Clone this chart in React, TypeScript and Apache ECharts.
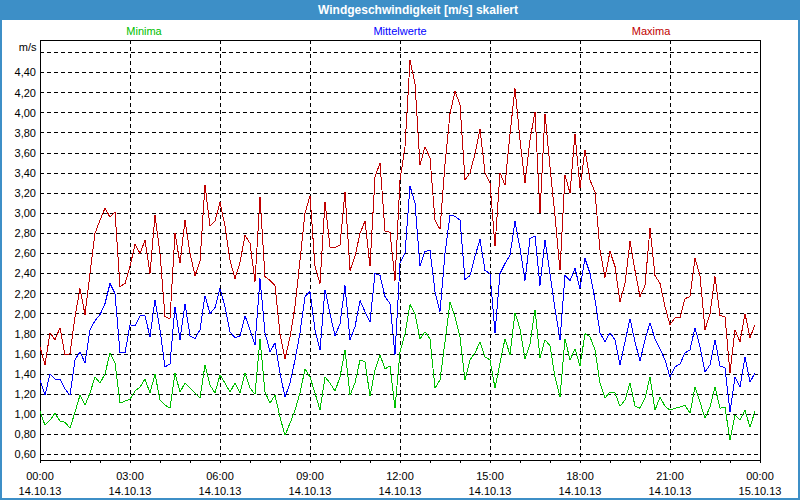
import React, { useEffect, useRef } from "react";
import * as echarts from "echarts";

const titleText = "Windgeschwindigkeit [m/s] skaliert";
const seriesNames = ["Minima", "Mittelwerte", "Maxima"];
const seriesColors = ["#00c000", "#0000ff", "#c00000"];
const yUnit = "m/s";
const timeLabels = ["00:00", "03:00", "06:00", "09:00", "12:00", "15:00", "18:00", "21:00", "00:00"];
const dateLabels = ["14.10.13", "14.10.13", "14.10.13", "14.10.13", "14.10.13", "14.10.13", "14.10.13", "14.10.13", "15.10.13"];

// 10-minute values, 00:00 .. 23:50
const maxima = [
  1.67, 1.49, 1.81, 1.74, 1.86, 1.59, 1.60, 1.97, 2.25, 1.99,
  2.40, 2.80, 2.93, 3.05, 2.96, 3.01, 2.27, 2.30, 2.47, 2.69,
  2.60, 2.73, 2.40, 2.98, 2.60, 1.97, 1.95, 2.80, 2.50, 2.93,
  2.60, 2.38, 2.52, 3.28, 2.87, 2.92, 3.11, 2.87, 2.53, 2.35,
  2.51, 2.78, 2.70, 2.32, 3.16, 2.37, 2.33, 2.28, 1.80, 1.55,
  1.77, 2.07, 2.53, 3.00, 3.17, 2.47, 2.30, 3.11, 2.66, 2.66,
  2.68, 3.21, 2.43, 2.57, 2.80, 2.92, 2.47, 3.36, 3.50, 2.82,
  2.81, 2.33, 3.33, 3.66, 4.52, 4.29, 3.48, 3.66, 3.55, 2.93,
  2.84, 3.49, 3.99, 4.21, 4.08, 3.33, 3.40, 3.59, 3.84, 3.40,
  3.30, 2.67, 3.40, 3.28, 3.79, 4.24, 3.73, 3.30, 3.73, 4.01,
  3.00, 3.99, 3.46, 2.97, 2.43, 3.38, 3.20, 3.79, 3.25, 3.63,
  3.33, 3.21, 2.63, 2.36, 2.62, 2.47, 2.12, 2.30, 2.72, 2.43,
  2.17, 2.28, 2.85, 2.38, 2.30, 2.07, 1.89, 1.96, 1.96, 2.15,
  2.17, 2.55, 2.38, 1.84, 2.00, 2.37, 1.98, 1.97, 1.41, 1.84,
  1.72, 2.00, 1.76, 1.89,
];
const mittelwerte = [
  1.34, 1.19, 1.40, 1.35, 1.35, 1.25, 1.19, 1.54, 1.62, 1.51,
  1.84, 1.93, 1.99, 2.10, 2.30, 2.20, 1.61, 1.61, 1.89, 1.88,
  1.98, 1.98, 1.77, 2.14, 1.84, 1.47, 1.50, 2.07, 1.74, 2.10,
  1.78, 1.75, 1.84, 2.18, 2.00, 2.06, 2.25, 2.07, 1.82, 1.76,
  1.78, 1.98, 1.84, 1.69, 2.35, 1.81, 1.62, 1.71, 1.41, 1.17,
  1.31, 1.54, 1.81, 2.17, 2.22, 1.84, 1.64, 2.24, 2.00, 1.78,
  1.90, 2.28, 1.74, 1.87, 2.13, 2.02, 1.92, 2.40, 2.38, 2.17,
  2.10, 1.59, 2.50, 2.60, 3.27, 3.10, 2.47, 2.62, 2.63, 2.22,
  2.02, 2.60, 2.98, 2.97, 2.93, 2.34, 2.38, 2.57, 2.74, 2.43,
  2.40, 1.81, 2.40, 2.50, 2.58, 2.92, 2.65, 2.33, 2.75, 2.77,
  2.28, 2.73, 2.40, 2.05, 1.74, 2.38, 2.33, 2.45, 2.25, 2.55,
  2.40, 2.14, 1.81, 1.72, 1.81, 1.74, 1.49, 1.72, 1.95, 1.72,
  1.53, 1.74, 1.91, 1.75, 1.65, 1.54, 1.37, 1.47, 1.50, 1.61,
  1.64, 1.86, 1.67, 1.42, 1.49, 1.74, 1.48, 1.46, 1.02, 1.37,
  1.27, 1.57, 1.32, 1.41,
];
const minima = [
  1.03, 0.89, 0.94, 1.01, 0.93, 0.92, 0.86, 1.02, 1.19, 1.09,
  1.21, 1.37, 1.31, 1.40, 1.61, 1.51, 1.11, 1.13, 1.15, 1.23,
  1.27, 1.35, 1.21, 1.40, 1.14, 1.09, 1.06, 1.41, 1.22, 1.31,
  1.26, 1.21, 1.16, 1.49, 1.29, 1.21, 1.39, 1.31, 1.22, 1.31,
  1.21, 1.41, 1.26, 1.20, 1.75, 1.22, 1.11, 1.19, 0.97, 0.79,
  0.91, 1.04, 1.21, 1.45, 1.37, 1.21, 1.04, 1.37, 1.31, 1.23,
  1.37, 1.64, 1.19, 1.31, 1.54, 1.52, 1.18, 1.44, 1.59, 1.45,
  1.48, 1.06, 1.62, 1.80, 2.09, 2.00, 1.75, 1.82, 1.75, 1.26,
  1.34, 1.72, 2.12, 1.97, 1.77, 1.34, 1.54, 1.61, 1.72, 1.57,
  1.54, 1.26, 1.51, 1.75, 1.59, 2.01, 1.85, 1.55, 1.70, 2.04,
  1.56, 1.74, 1.68, 1.37, 1.17, 1.75, 1.54, 1.65, 1.48, 1.80,
  1.77, 1.64, 1.31, 1.16, 1.22, 1.21, 1.08, 1.14, 1.31, 1.08,
  1.06, 1.16, 1.37, 1.04, 1.17, 1.08, 1.04, 1.06, 1.07, 1.09,
  1.01, 1.27, 1.12, 0.96, 1.07, 1.27, 1.06, 1.07, 0.74, 0.99,
  0.94, 1.04, 0.87, 1.03,
];

const FONT = "'Liberation Sans', Arial, sans-serif";

export default function App() {
  const ref = useRef<HTMLDivElement>(null);
  useEffect(() => {
    document.body.style.margin = "0";
    if (!ref.current) return;
    const chart = echarts.init(ref.current, undefined, { renderer: "svg" });
    const allData = [minima, mittelwerte, maxima];
    const option: any = {
      animation: false,
      backgroundColor: "#ffffff",
      grid: [
        { left: 40, right: 40, top: 52.33, bottom: 45.6, containLabel: false },
        { left: 40, right: 40, top: 40, bottom: 40, show: true, borderColor: "#000", borderWidth: 1, backgroundColor: "transparent", containLabel: false },
      ],
      xAxis: [
        { gridIndex: 0, type: "value", min: 0, max: 144, show: false },
        {
          gridIndex: 1, type: "value", min: 0, max: 144, interval: 18,
          axisLine: { show: true, lineStyle: { color: "#000", width: 1 } },
          axisTick: { show: true, length: 3, lineStyle: { color: "#000" } },
          minorTick: { show: true, splitNumber: 3, length: 3, lineStyle: { color: "#000" } },
          splitLine: { show: true, lineStyle: { color: "#000", type: [4, 3], width: 1 } },
          axisLabel: {
            show: true, margin: 8, color: "#000", fontSize: 11, fontFamily: FONT, lineHeight: 15,
            showMinLabel: true, showMaxLabel: true,
            formatter: (v: number) => {
              const k = Math.round(v / 18);
              return timeLabels[k] + "\n" + dateLabels[k];
            },
          },
        },
      ],
      yAxis: [
        {
          gridIndex: 0, type: "value", min: 0.6, max: 4.6, interval: 0.2,
          axisLine: { show: false }, axisTick: { show: false },
          splitLine: { show: true, lineStyle: { color: "#000", type: [4, 3], width: 1 } },
          axisLabel: {
            margin: 4, color: "#000", fontSize: 11, fontFamily: FONT,
            formatter: (v: number) => (Math.abs(v - 4.6) < 1e-6 ? "" : v.toFixed(2).replace(".", ",")),
          },
        },
        { gridIndex: 1, type: "value", min: 0, max: 1, show: false },
      ],
      series: allData.map((arr, s) => ({
        name: seriesNames[s],
        type: "line",
        xAxisIndex: 0,
        yAxisIndex: 0,
        showSymbol: false,
        symbol: "none",
        data: arr.map((v, i) => [i, v]),
        lineStyle: { color: seriesColors[s], width: 1 },
        itemStyle: { color: seriesColors[s] },
        z: 3,
      })),
      graphic: [
        { type: "rect", shape: { x: 0, y: 0, width: 800, height: 20 }, style: { fill: "#3d8fc7" }, z: 10 },
        { type: "rect", shape: { x: 1, y: 1, width: 798, height: 498 }, style: { fill: "none", stroke: "#3d8fc7", lineWidth: 2 }, z: 10 },
        {
          type: "text", x: 418, y: 10, z: 11,
          style: { text: titleText, fill: "#ffffff", font: `bold 12px ${FONT}`, align: "center", verticalAlign: "middle" },
        },
        {
          type: "text", x: 144, y: 31, z: 11,
          style: { text: seriesNames[0], fill: seriesColors[0], font: `11px ${FONT}`, align: "center", verticalAlign: "middle" },
        },
        {
          type: "text", x: 400, y: 31, z: 11,
          style: { text: seriesNames[1], fill: seriesColors[1], font: `11px ${FONT}`, align: "center", verticalAlign: "middle" },
        },
        {
          type: "text", x: 651, y: 31, z: 11,
          style: { text: seriesNames[2], fill: seriesColors[2], font: `11px ${FONT}`, align: "center", verticalAlign: "middle" },
        },
        {
          type: "text", x: 36.5, y: 47, z: 11,
          style: { text: yUnit, fill: "#000", font: `11px ${FONT}`, align: "right", verticalAlign: "middle" },
        },
      ],
    };
    chart.setOption(option);
    return () => chart.dispose();
  }, []);
  return (
    <>
      <style>{"svg path{shape-rendering:crispEdges}"}</style>
      <div ref={ref} style={{ width: 800, height: 500 }} />
    </>
  );
}
